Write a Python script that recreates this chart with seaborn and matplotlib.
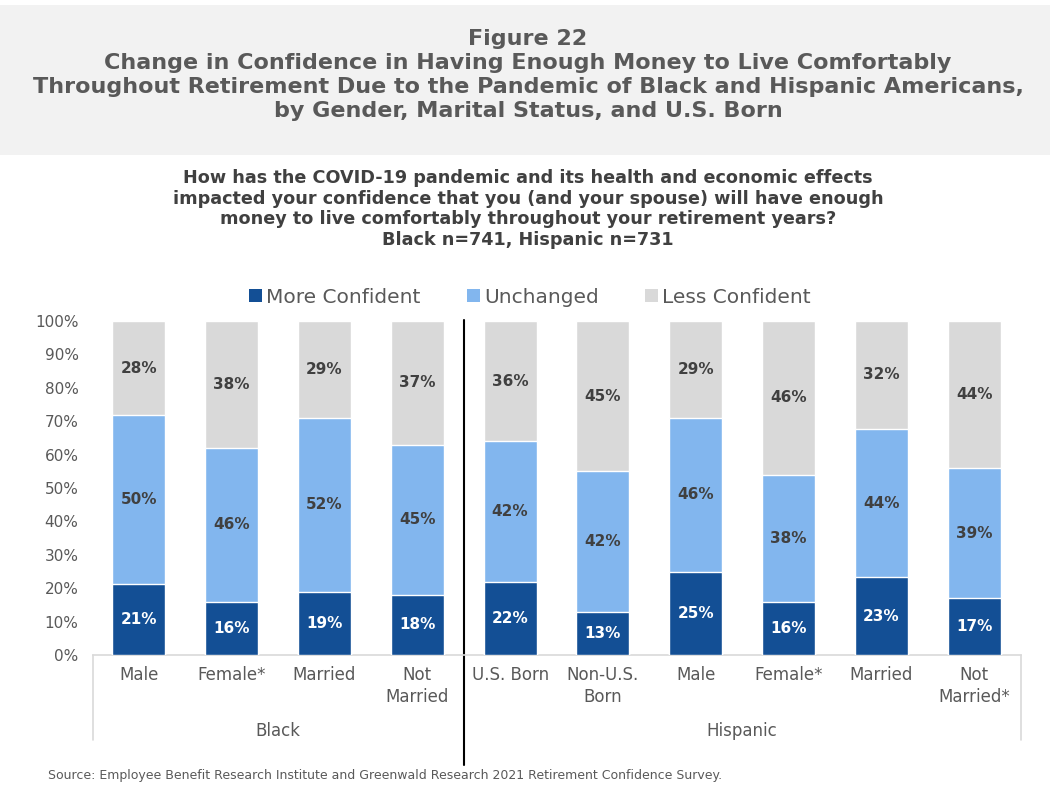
import matplotlib
matplotlib.use("Agg")
import matplotlib.pyplot as plt
import seaborn as sns
import pandas as pd
import numpy as np
from matplotlib.patches import Patch, Rectangle
from matplotlib.lines import Line2D

groups = ["Black", "Black", "Black", "Black",
          "Hispanic", "Hispanic", "Hispanic", "Hispanic", "Hispanic", "Hispanic"]
categories = ["Male", "Female*", "Married", "Not\nMarried",
              "U.S. Born", "Non-U.S.\nBorn", "Male", "Female*", "Married", "Not\nMarried*"]
more_confident = [21, 16, 19, 18, 22, 13, 25, 16, 23, 17]
unchanged = [50, 46, 52, 45, 42, 42, 46, 38, 44, 39]
less_confident = [28, 38, 29, 37, 36, 45, 29, 46, 32, 44]
series_names = ["More Confident", "Unchanged", "Less Confident"]
y_ticks = [0, 10, 20, 30, 40, 50, 60, 70, 80, 90, 100]

C_DARK = "#134f95"
C_LIGHT = "#82b6ee"
C_GRAY = "#d9d9d9"
TXT = "#595959"

sns.set_theme(style="white")
plt.rcParams["font.family"] = ["DejaVu Sans"]

keys = [f"{g}|{c}|{i}" for i, (g, c) in enumerate(zip(groups, categories))]
tot = np.array(more_confident) + np.array(unchanged) + np.array(less_confident)
df = pd.DataFrame({
    "key": keys,
    "m": np.array(more_confident) / tot,
    "mu": (np.array(more_confident) + np.array(unchanged)) / tot,
    "all": tot / tot,
})

fig = plt.figure(figsize=(10.56, 7.88), dpi=100)
W, H = 1056, 788

# title box
fig.add_artist(Rectangle((0, 1 - 155 / H), 1050 / W, 150 / H,
                         transform=fig.transFigure, facecolor="#f2f2f2",
                         edgecolor="none", zorder=0))
fig.text(0.5, 1 - 75 / H,
         "Figure 22\nChange in Confidence in Having Enough Money to Live Comfortably\n"
         "Throughout Retirement Due to the Pandemic of Black and Hispanic Americans,\n"
         "by Gender, Marital Status, and U.S. Born",
         ha="center", va="center", fontsize=16, fontweight="bold",
         color=TXT, linespacing=1.26)
fig.text(0.5, 1 - 209 / H,
         "How has the COVID-19 pandemic and its health and economic effects\n"
         "impacted your confidence that you (and your spouse) will have enough\n"
         "money to live comfortably throughout your retirement years?\n"
         "Black n=741, Hispanic n=731",
         ha="center", va="center", fontsize=12.7, fontweight="bold",
         color="#404040", linespacing=1.2)

ax = fig.add_axes([92.5 / W, 1 - 655 / H, 928 / W, 334 / H])
bw = 0.57
sns.barplot(data=df, x="key", y="all", order=keys, color=C_GRAY, width=bw,
            saturation=1, ax=ax, zorder=2)
sns.barplot(data=df, x="key", y="mu", order=keys, color=C_LIGHT, width=bw,
            saturation=1, ax=ax, zorder=3)
sns.barplot(data=df, x="key", y="m", order=keys, color=C_DARK, width=bw,
            saturation=1, ax=ax, zorder=4)

for i in range(len(keys)):
    m = more_confident[i] / tot[i]
    u = unchanged[i] / tot[i]
    l = less_confident[i] / tot[i]
    ax.text(i, m / 2, f"{more_confident[i]}%", ha="center", va="center",
            fontsize=11, fontweight="bold", color="white", zorder=6)
    ax.text(i, m + u / 2, f"{unchanged[i]}%", ha="center", va="center",
            fontsize=11, fontweight="bold", color="#404040", zorder=6)
    ax.text(i, m + u + l / 2, f"{less_confident[i]}%", ha="center", va="center",
            fontsize=11, fontweight="bold", color="#404040", zorder=6)

ax.set_xlim(-0.5, len(keys) - 0.5)
ax.set_ylim(0, 1)
ax.set_yticks([t / 100 for t in y_ticks])
ax.set_yticklabels([f"{t}%" for t in y_ticks], fontsize=11, color=TXT)
ax.tick_params(axis="y", length=0, pad=10)
ax.set_xticks(range(len(keys)))
ax.set_xticklabels(categories, fontsize=12, color=TXT, linespacing=1.3, va="top")
ax.tick_params(axis="x", length=0, pad=8)
ax.set_xlabel("")
ax.set_ylabel("")
for s in ["top", "right", "left"]:
    ax.spines[s].set_visible(False)
ax.spines["bottom"].set_color(C_GRAY)
ax.spines["bottom"].set_linewidth(1.2)
ax.patch.set_alpha(0)

trans = ax.get_xaxis_transform()
yb = (655 - 740) / 334
ax.add_line(Line2D([-0.5, -0.5], [0, yb], transform=trans, color=C_GRAY,
                   lw=1.2, clip_on=False))
ax.add_line(Line2D([9.5, 9.5], [0, yb], transform=trans, color=C_GRAY,
                   lw=1.2, clip_on=False))
ax.add_line(Line2D([3.5, 3.5], [(655 - 765) / 334, (655 - 320) / 334],
                   transform=trans, color="black", lw=1.5, clip_on=False))
ax.text(1.5, (655 - 731) / 334, "Black", transform=trans, ha="center",
        va="center", fontsize=12, color=TXT)
ax.text(6.5, (655 - 731) / 334, "Hispanic", transform=trans, ha="center",
        va="center", fontsize=12, color=TXT)

handles = [Patch(facecolor=c, edgecolor="none") for c in (C_DARK, C_LIGHT, C_GRAY)]
leg = fig.legend(handles, series_names, loc="center", ncol=3,
                 bbox_to_anchor=(530 / W, 1 - 297 / H), frameon=False,
                 fontsize=14.5, handlelength=0.65, handleheight=0.65,
                 handletextpad=0.2, columnspacing=2.3)
for t in leg.get_texts():
    t.set_color(TXT)

fig.text(48 / W, 1 - 775 / H,
         "Source: Employee Benefit Research Institute and Greenwald Research 2021 Retirement Confidence Survey.",
         ha="left", va="center", fontsize=9, color=TXT)

fig.savefig("out.png", dpi=100)
